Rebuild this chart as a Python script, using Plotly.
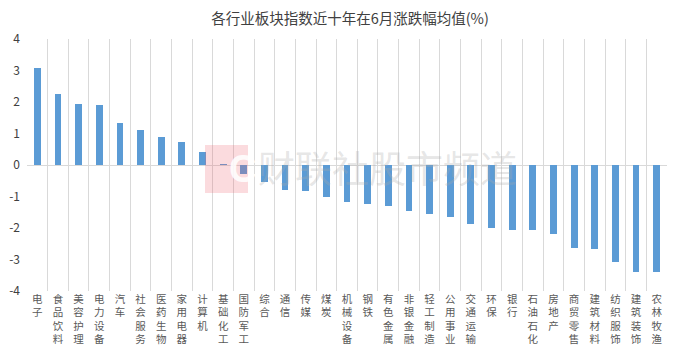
import plotly.graph_objects as go

categories = ["电子", "食品饮料", "美容护理", "电力设备", "汽车", "社会服务", "医药生物", "家用电器",
              "计算机", "基础化工", "国防军工", "综合", "通信", "传媒", "煤炭", "机械设备", "钢铁",
              "有色金属", "非银金融", "轻工制造", "公用事业", "交通运输", "环保", "银行", "石油石化",
              "房地产", "商贸零售", "建筑材料", "纺织服饰", "建筑装饰", "农林牧渔"]
values = [3.09, 2.24, 1.93, 1.90, 1.32, 1.11, 0.88, 0.72,
          0.42, 0.01, -0.30, -0.53, -0.80, -0.81, -1.03, -1.19, -1.23,
          -1.31, -1.46, -1.55, -1.66, -1.86, -2.00, -2.06, -2.07,
          -2.18, -2.63, -2.66, -3.09, -3.39, -3.41]
y_ticks = [4, 3, 2, 1, 0, -1, -2, -3, -4]
title_text = "各行业板块指数近十年在6月涨跌幅均值(%)"
watermark_text = "财联社股市频道"

labels = ["<br>".join(list(c)) for c in categories]
FONT = "Noto Sans CJK SC, Noto Sans, sans-serif"

fig = go.Figure(go.Bar(
    x=labels, y=values,
    marker=dict(color="#5B9BD5", line=dict(width=0)),
    width=0.33,
))

# page body has an 8px default margin, so the figure is sized to fit the window
fig.update_layout(
    width=684, height=348,
    margin=dict(l=19, r=25, t=31, b=65, autoexpand=False),
    paper_bgcolor="white", plot_bgcolor="white",
    showlegend=False,
    font=dict(family=FONT, color="#595959", size=12),
    title=dict(text=title_text, x=0.5, xanchor="center", y=0.968, yanchor="middle",
               yref="container", automargin=False,
               font=dict(size=14.5, color="#404040", family=FONT)),
    bargap=0,
)
fig.update_xaxes(
    type="category", tickson="boundaries", showgrid=True, gridcolor="#d9d9d9", gridwidth=1,
    ticks="", showline=False, tickangle=0, automargin=False,
    tickfont=dict(size=10.5, color="#595959", family=FONT),
    zeroline=False,
)
fig.update_yaxes(
    range=[-4, 4], tickvals=y_ticks, ticktext=[str(v) for v in y_ticks],
    showgrid=False, zeroline=True, zerolinecolor="#d9d9d9", zerolinewidth=1,
    tickfont=dict(size=12, color="#404040", family=FONT), ticks="", ticklen=0,
    ticklabelstandoff=6, automargin=False, fixedrange=True,
)

# watermark
x0, x1 = (205 - 27) / 640, (248 - 27) / 640
y0, y1 = (291 - 193) / 252, (291 - 145) / 252
fig.add_shape(type="rect", xref="paper", yref="paper", x0=x0, x1=x1, y0=y0, y1=y1,
              fillcolor="rgba(235,90,105,0.22)", line=dict(width=0), layer="above")
fig.add_annotation(xref="paper", yref="paper", x=(x0 + x1) / 2, y=(y0 + y1) / 2,
                   text="<b>C</b>", showarrow=False,
                   font=dict(size=38, color="rgba(255,255,255,0.9)", family="Liberation Sans"))
fig.add_annotation(xref="paper", yref="paper", x=(256 - 27) / 640, xanchor="left",
                   y=(291 - 167) / 252, yanchor="middle", text=watermark_text, showarrow=False,
                   font=dict(size=37, color="rgba(170,170,170,0.3)", family=FONT))

fig.write_html("out.html")
